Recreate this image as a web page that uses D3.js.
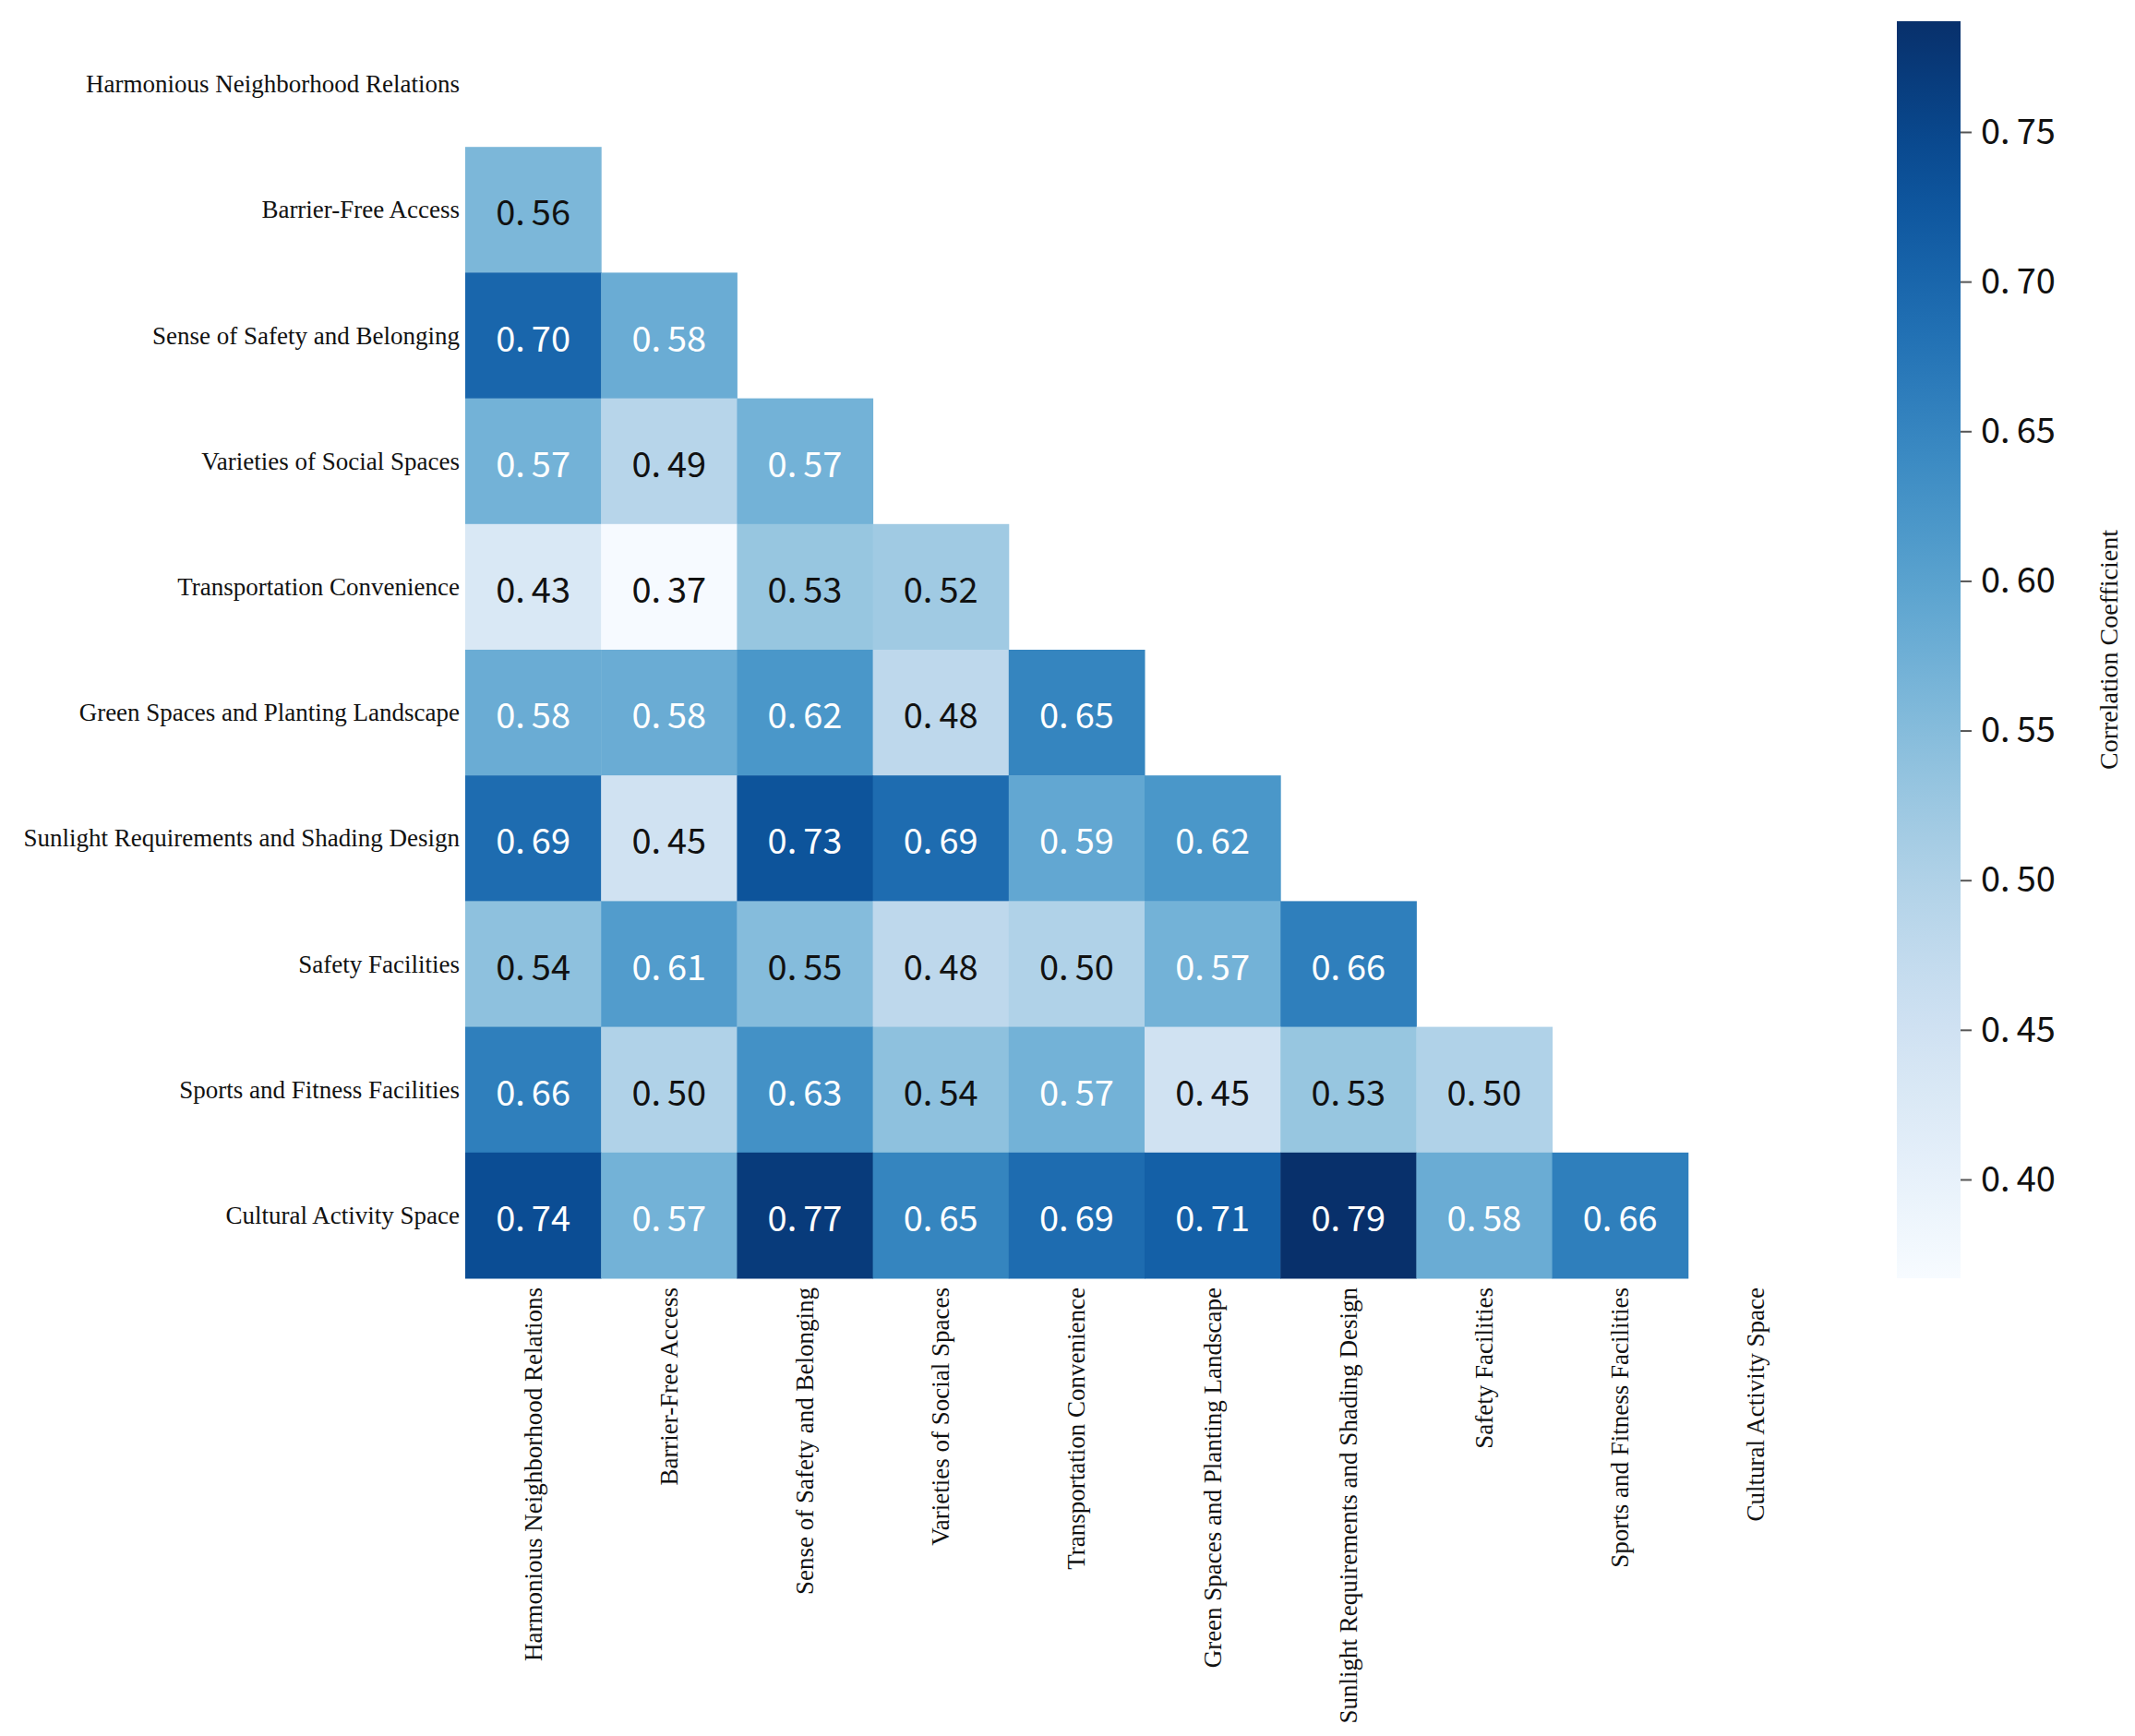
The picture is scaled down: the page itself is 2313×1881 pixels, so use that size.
<!DOCTYPE html>
<html><head><meta charset="utf-8">
<script src="https://cdn.jsdelivr.net/npm/d3@7"></script>
<style>body{margin:0;background:#fff}</style>
</head><body>
<svg id="c" width="2313" height="1881"></svg>
<script>
const categories = ["Harmonious Neighborhood Relations","Barrier-Free Access","Sense of Safety and Belonging","Varieties of Social Spaces","Transportation Convenience","Green Spaces and Planting Landscape","Sunlight Requirements and Shading Design","Safety Facilities","Sports and Fitness Facilities","Cultural Activity Space"];
const rowValues = [
  [],
  [0.56],
  [0.70,0.58],
  [0.57,0.49,0.57],
  [0.43,0.37,0.53,0.52],
  [0.58,0.58,0.62,0.48,0.65],
  [0.69,0.45,0.73,0.69,0.59,0.62],
  [0.54,0.61,0.55,0.48,0.50,0.57,0.66],
  [0.66,0.50,0.63,0.54,0.57,0.45,0.53,0.50],
  [0.74,0.57,0.77,0.65,0.69,0.71,0.79,0.58,0.66]
];
const colorTicks = [0.40,0.45,0.50,0.55,0.60,0.65,0.70,0.75];
const vmin = 0.367, vmax = 0.787;

const svg = d3.select("#c");
const L = 504, T = 23, W = 1472, H = 1362;
const x = d3.scaleBand().domain(categories).range([L, L+W]);
const y = d3.scaleBand().domain(categories).range([T, T+H]);
const color = d3.scaleSequential(d3.interpolateBlues).domain([vmin, vmax]);

const cells = [];
rowValues.forEach((r,i)=>r.forEach((v,j)=>cells.push({r:categories[i], c:categories[j], v})));

const g = svg.append("g");
g.selectAll("rect").data(cells).join("rect")
  .attr("x", d=>x(d.c)).attr("y", d=>y(d.r))
  .attr("width", x.bandwidth()+0.5).attr("height", y.bandwidth()+0.5)
  .attr("fill", d=>color(d.v));
const lbl = g.selectAll("text").data(cells).join("text")
  .attr("x", d=>x(d.c)+x.bandwidth()/2).attr("y", d=>y(d.r)+y.bandwidth()/2)
  .attr("text-anchor","middle").attr("dominant-baseline","central")
  .attr("font-family","'Noto Sans CJK SC', 'Noto Sans', sans-serif")
  .attr("font-size",38)
  .attr("fill", d=>d.v>=0.565?"#fff":"#111");
lbl.each(function(d){
  const s = d3.format(".2f")(d.v).split(".");
  const t = d3.select(this);
  t.append("tspan").text(s[0]+".");
  t.append("tspan").attr("dx",7).text(s[1]);
});

// y axis labels
svg.append("g").selectAll("text").data(categories).join("text")
  .attr("x", L-6).attr("y", d=>y(d)+y.bandwidth()/2)
  .attr("text-anchor","end").attr("dominant-baseline","central")
  .attr("font-family","'Liberation Serif', serif").attr("font-size",27)
  .attr("fill","#111").text(d=>d);
// x axis labels
svg.append("g").selectAll("text").data(categories).join("text")
  .attr("transform", d=>`translate(${x(d)+x.bandwidth()/2},${T+H+10}) rotate(-90)`)
  .attr("text-anchor","end").attr("dominant-baseline","central")
  .attr("font-family","'Liberation Serif', serif").attr("font-size",27)
  .attr("fill","#111").text(d=>d);

// colorbar
const cbX = 2055, cbW = 69;
const cy = d3.scaleLinear().domain([vmin, vmax]).range([T+H, T]);
const defs = svg.append("defs");
const grad = defs.append("linearGradient").attr("id","cg").attr("x1",0).attr("y1",1).attr("x2",0).attr("y2",0);
d3.range(0,1.0001,0.05).forEach(t=>grad.append("stop").attr("offset",t).attr("stop-color",d3.interpolateBlues(t)));
svg.append("rect").attr("x",cbX).attr("y",T).attr("width",cbW).attr("height",H).attr("fill","url(#cg)");
const ax = svg.append("g").attr("transform",`translate(${cbX+cbW},0)`)
  .call(d3.axisRight(cy).tickValues(colorTicks).tickSize(12).tickPadding(10).tickFormat(d3.format(".2f")));
ax.select(".domain").remove();
ax.selectAll(".tick line").attr("stroke","#555").attr("stroke-width",2);
ax.selectAll(".tick text").attr("font-family","'Noto Sans CJK SC', 'Noto Sans', sans-serif")
  .attr("font-size",38).attr("fill","#111")
  .each(function(d){
    const s = d3.format(".2f")(d).split(".");
    const t = d3.select(this); t.text(null);
    t.append("tspan").text(s[0]+".");
    t.append("tspan").attr("dx",7).text(s[1]);
  });
svg.append("text").attr("transform",`translate(2284,${T+H/2}) rotate(-90)`)
  .attr("text-anchor","middle").attr("dominant-baseline","central")
  .attr("font-family","'Liberation Serif', serif").attr("font-size",28)
  .attr("fill","#111").text("Correlation Coefficient");
</script>
</body></html>
